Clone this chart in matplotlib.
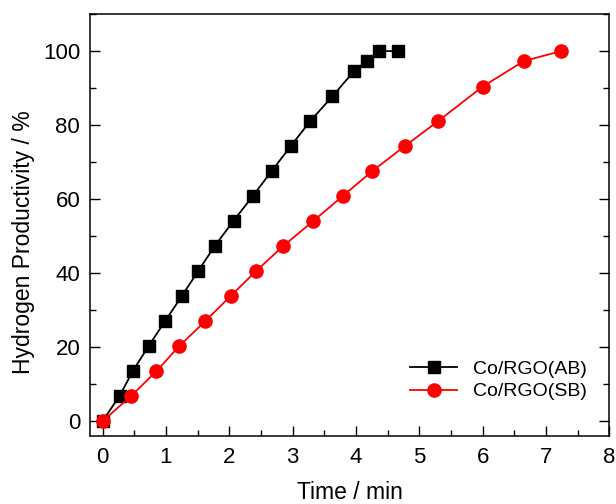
import matplotlib
matplotlib.use("Agg")
import matplotlib.pyplot as plt
from matplotlib.ticker import MultipleLocator

plt.rcParams['font.family'] = ['Liberation Sans', 'DejaVu Sans']

# Co/RGO(AB) - black squares
t_ab = [0, 0.27, 0.48, 0.73, 0.99, 1.25, 1.51, 1.77, 2.07, 2.37, 2.67, 2.97,
        3.28, 3.63, 3.97, 4.17, 4.37, 4.67]
h_ab = [0, 6.9, 13.6, 20.4, 27.1, 33.8, 40.6, 47.3, 54.2, 60.8, 67.6, 74.3,
        81.1, 87.8, 94.6, 97.3, 100, 100]

# Co/RGO(SB) - red circles
t_sb = [0, 0.45, 0.85, 1.21, 1.62, 2.02, 2.42, 2.85, 3.32, 3.79, 4.26, 4.77,
        5.30, 6.0, 6.65, 7.24]
h_sb = [0, 6.8, 13.5, 20.3, 27.0, 33.8, 40.5, 47.3, 54.0, 60.8, 67.6, 74.3,
        81.1, 90.4, 97.3, 100]

fig = plt.figure(figsize=(6.16, 5.04), dpi=100)
ax = fig.add_axes([0.146, 0.135, 0.843, 0.837])

ax.plot(t_ab, h_ab, color='black', marker='s', markersize=8.5, lw=1.3,
        label='Co/RGO(AB)')
ax.plot(t_sb, h_sb, color='red', marker='o', markersize=9.5, lw=1.3,
        label='Co/RGO(SB)')

ax.set_xlim(-0.2, 8)
ax.set_ylim(-4, 110)
ax.xaxis.set_major_locator(MultipleLocator(1))
ax.xaxis.set_minor_locator(MultipleLocator(0.5))
ax.yaxis.set_major_locator(MultipleLocator(20))
ax.yaxis.set_minor_locator(MultipleLocator(10))
ax.tick_params(which='both', direction='in', right=True, labelsize=16, width=1)
ax.tick_params(which='major', length=7)
ax.tick_params(which='minor', length=4)
ax.tick_params(axis='x', pad=8)
ax.tick_params(axis='y', pad=7)
for s in ax.spines.values():
    s.set_linewidth(1.1)

ax.set_xlabel('Time / min', fontsize=16.5, labelpad=9)
ax.set_ylabel('Hydrogen Productivity / %', fontsize=16.5, labelpad=6)
ax.yaxis.label.set_y(0.46)

ax.legend(loc='lower right', frameon=False, fontsize=14, handlelength=2.4,
          bbox_to_anchor=(0.99, 0.043), labelspacing=0.25)

fig.savefig('out.png', dpi=100)
